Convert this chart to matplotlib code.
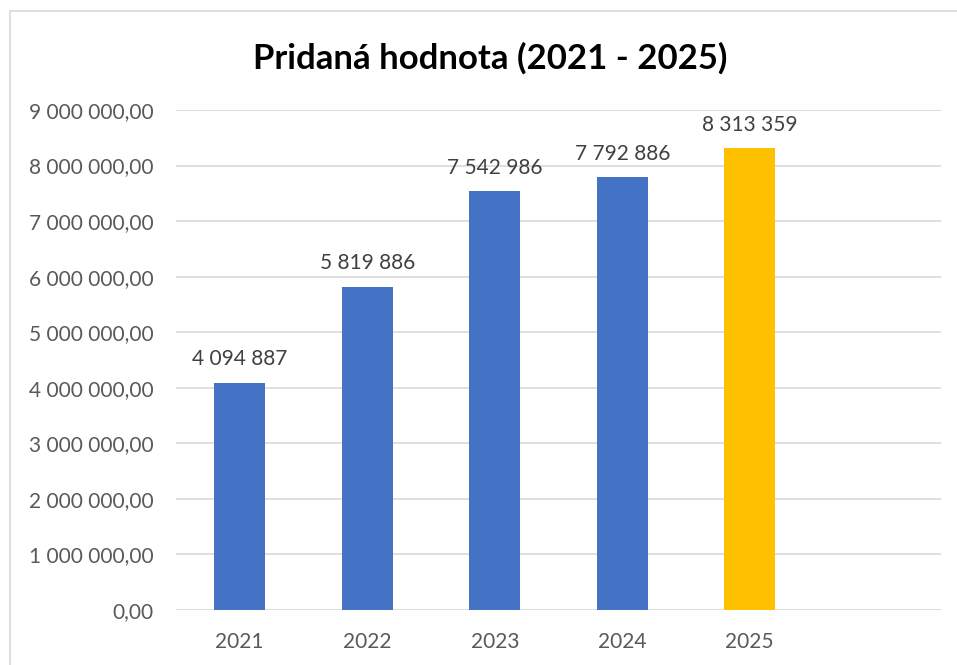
import matplotlib
matplotlib.use('Agg')
import matplotlib.pyplot as plt
from matplotlib.patches import Rectangle
from matplotlib.ticker import FuncFormatter

years = ['2021', '2022', '2023', '2024', '2025', '']
values = [4094887, 5819886, 7542986, 7792886, 8313359, None]
bar_colors = ['#4472C4', '#4472C4', '#4472C4', '#4472C4', '#FFC000']
title = 'Pridaná hodnota (2021 - 2025)'

plt.rcParams['font.family'] = ['Lato', 'DejaVu Sans']


def sk_num(v, decimals=0):
    s = f"{v:,.{decimals}f}"
    return s.replace(',', ' ').replace('.', ',')


fig = plt.figure(figsize=(9.57, 6.65), dpi=100)
fig.patches.append(Rectangle((10 / 957, -0.1), 1.2, (665 - 11) / 665 + 0.1,
                             transform=fig.transFigure, fill=False,
                             edgecolor='#d9d9d9', linewidth=1.2))

ax = fig.add_axes([176 / 957, 55 / 665, 765 / 957, 500 / 665])
x = list(range(len(years)))
drawn = [v for v in values if v is not None]
bars = ax.bar(x[:len(drawn)], drawn, width=0.4, color=bar_colors, zorder=3)
for b, v in zip(bars, drawn):
    ax.text(b.get_x() + b.get_width() / 2, v + 240000, sk_num(v),
            ha='center', va='bottom', fontsize=15, color='#404040')

ax.set_xlim(-0.5, len(years) - 0.5)
ax.set_ylim(0, 9000000)
ax.set_yticks(range(0, 9000001, 1000000))
ax.yaxis.set_major_formatter(FuncFormatter(lambda v, p: sk_num(v, 2)))
ax.set_xticks(x)
ax.set_xticklabels(years)
ax.grid(axis='y', color='#d9d9d9', linewidth=1.2, zorder=0)
for s in ax.spines.values():
    s.set_visible(False)
ax.tick_params(length=0, labelsize=15, labelcolor='#595959')
ax.tick_params(axis='y', pad=16)
ax.tick_params(axis='x', pad=16)

fig.text(490 / 957, 1 - 58 / 665, title, ha='center', va='center',
         fontsize=25, fontweight='bold', color='black')

fig.savefig('out.png', dpi=100)
